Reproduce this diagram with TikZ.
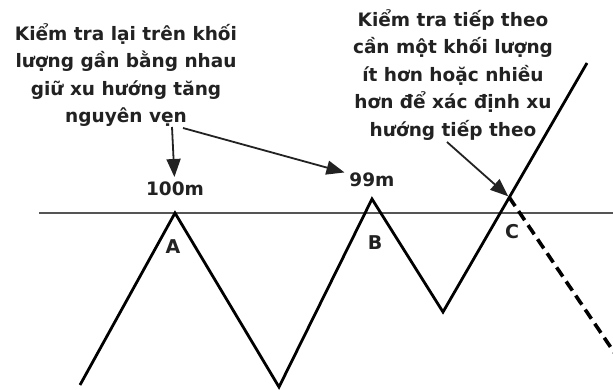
\documentclass[tikz,border=0pt]{standalone}
\usepackage{fontspec}
\setmainfont{DejaVu Sans}
\usepackage{tikz}
\usetikzlibrary{arrows.meta,calc}
\definecolor{tinta}{HTML}{222222}
\definecolor{guia}{HTML}{555555}
\tikzset{
  nota/.style={font=\fontsize{18.5}{27.5}\selectfont\bfseries,text=tinta,align=center,inner sep=0pt},
  volumen/.style={font=\fontsize{18.5}{22}\selectfont\bfseries,text=tinta,inner sep=0pt,outer sep=5pt},
  punto/.style={font=\fontsize{19}{22}\selectfont\bfseries,text=tinta,inner sep=0pt},
  tendencia/.style={line width=2.8pt,black},
  prevision/.style={line width=3.6pt,black,dash pattern=on 11pt off 6pt},
  resistencia/.style={line width=1.5pt,guia},
  flecha/.style={-{Triangle[length=18pt,width=14pt]},line width=1.8pt,tinta},
}

\begin{document}
\begin{tikzpicture}[x=1pt,y=-1pt]
  \useasboundingbox[fill=white] (0,0) rectangle (613,390);
  % puntos del precio
  \coordinate (inicio) at (80,385);
  \coordinate (pA) at (175,213);
  \coordinate (v1) at (279,387);
  \coordinate (pB) at (372,199);
  \coordinate (v2) at (443,312);
  \coordinate (fin) at (587,63);
  \coordinate (pC) at (509,197);
  \coordinate (baja) at (620,361);
  % linea de resistencia
  \coordinate (r0) at (39,213);
  \coordinate (r1) at (613,213);
  \draw[resistencia] (r0) -- (r1);
  \draw[tendencia] (inicio) -- (pA) -- (v1) -- (pB) -- (v2) -- (fin);
  \draw[prevision] (pC) -- (baja);
  % etiquetas
  \node[punto] (A) at ($(pA)+(-2,34)$) {A};
  \node[punto] (B) at ($(pB)+(3,44)$) {B};
  \node[punto] (C) at (512,232) {C};
  \node[volumen] (v100) at ($(pA)+(0,-24)$) {100m};
  \node[volumen] (v99) at ($(pB)+(0,-19)$) {99m};
  % notas
  \node[nota,anchor=north] (nota1) at (126,23) {Kiểm tra lại trên khối\\lượng gần bằng nhau\\giữ xu hướng tăng\\nguyên vẹn};
  \node[nota,anchor=north] (nota2) at (453,9) {Kiểm tra tiếp theo\\cần một khối lượng\\ít hơn hoặc nhiều\\hơn để xác định xu\\hướng tiếp theo};
  \coordinate (s1) at (172,127);
  \coordinate (s2) at (183,128);
  \coordinate (s3) at (447,142);
  \draw[flecha] (s1) -- (v100);
  \draw[flecha] (s2) -- (v99);
  \draw[flecha,shorten >=1pt] (s3) -- (pC);
\end{tikzpicture}
\end{document}
